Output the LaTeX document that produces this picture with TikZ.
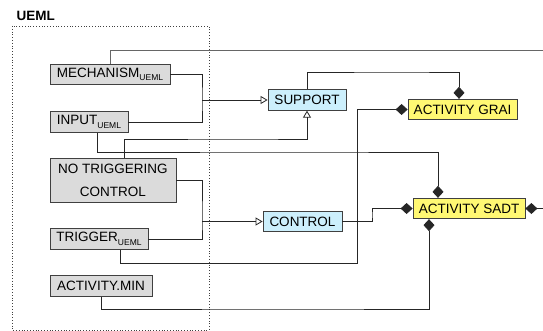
\documentclass[tikz,border=0pt]{standalone}
\usepackage{fontspec}
\setmainfont{Liberation Sans}
\usetikzlibrary{arrows.meta}

\newcommand{\ueml}{\raisebox{-3.5pt}{\fontsize{8.5}{8.5}\selectfont UEML}}

\begin{document}
\begin{tikzpicture}[x=1pt,y=-1pt,
    box/.style={draw=black!75,line width=0.8pt,inner sep=0pt,minimum height=20.5pt,
        font=\fontsize{13.5}{23}\selectfont,align=center},
    uemlbox/.style={box,fill=black!14},
    grpbox/.style={box,fill=cyan!20},
    actbox/.style={box,fill=yellow!55},
    link/.style={draw=black!85,line width=0.8pt},
    dia/.style={link,-{Diamond[length=12pt,width=11pt]}},
    rdia/.style={link,{Diamond[length=12pt,width=11pt]}-},
    tri/.style={link,-{Triangle[open,length=7pt,width=8pt]}}]

        \useasboundingbox (0,0) rectangle (543,331);

        % UEML package
        \node[anchor=west,font=\fontsize{13.5}{15}\selectfont\bfseries] (title) at (13,16) {UEML};
        \draw[dotted,black!75,line width=0.8pt] (12,26) rectangle (209,330);

        % UEML concepts
        \node[uemlbox,minimum width=120pt] (mech) at (110,74.5) {MECHANISM\ueml};
        \node[uemlbox,minimum width=78pt] (input) at (89,122) {INPUT\ueml};
        \node[uemlbox,minimum width=126pt,minimum height=44pt] (notrig) at (113,180) {NO TRIGGERING\\CONTROL};
        \node[uemlbox,minimum width=98pt] (trigger) at (99,239) {TRIGGER\ueml};
        \node[uemlbox,minimum width=102pt] (actmin) at (101,286) {ACTIVITY.MIN};

        % Groupings
        \node[grpbox,minimum width=78pt] (support) at (307,100) {SUPPORT};
        \node[grpbox,minimum width=79pt] (control) at (302.5,221.5) {CONTROL};

        % Activities
        \node[actbox,minimum width=109pt] (grai) at (462.5,109.5) {ACTIVITY GRAI};
        \node[actbox,minimum width=112pt] (sadt) at (469,208.5) {ACTIVITY SADT};

        % Bends and free ends
        \coordinate (j1) at (202,100);
        \coordinate (j2) at (202,221.5);
        \coordinate (c2) at (300,152);
        \coordinate (c3) at (250,139);
        \coordinate (c4) at (357,263);
        \coordinate (c6) at (400,72);
        \coordinate (c7) at (372,215);
        \coordinate (c8) at (300,309);
        \coordinate (e1) at (543,51);
        \coordinate (e2) at (543,208.5);

        % Support
        \draw[link] (mech.east) -| (j1) |- (input.east);
        \draw[tri] (j1) -- (support.west);
        \draw[tri] ([xshift=11pt]notrig.north) |- (c3) -| (support.south);

        % Control
        \draw[link] (notrig.east) -| (j2) |- (trigger.east);
        \draw[tri] (j2) -- (control.west);

        % Links to activities
        \draw[link,draw=black!60,line width=1pt] (mech.north) |- (e1);
        \draw[dia] ([xshift=8pt]input.south) |- (c2) -| ([xshift=-31pt]sadt.north);
        \draw[dia] ([xshift=21pt]trigger.south) |- (c4) |- (grai.west);
        \draw[dia] (support.north) |- (c6) -| ([xshift=-3.5pt]grai.north);
        \draw[dia] (control.east) -| (c7) |- (sadt.west);
        \draw[rdia] (sadt.east) -- (e2);
        \draw[rdia] ([xshift=-40pt]sadt.south) |- (c8) -| (actmin.south);

    \end{tikzpicture}
\end{document}
